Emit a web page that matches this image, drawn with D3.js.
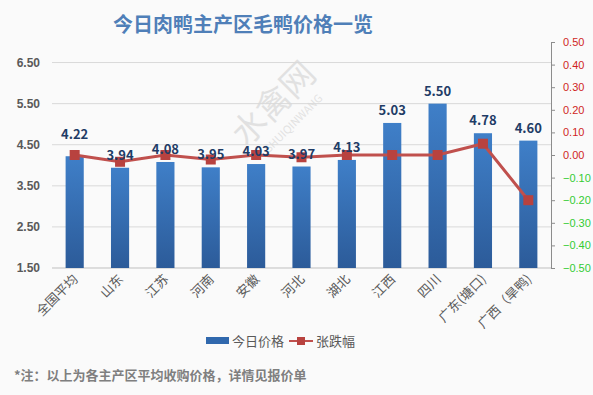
<!DOCTYPE html>
<html>
<head>
<meta charset="utf-8">
<script src="https://cdn.jsdelivr.net/npm/d3@7"></script>
<style>
  html, body { margin: 0; padding: 0; background: #fafafa; }
  svg { display: block; font-family: "Noto Sans CJK SC", "DejaVu Sans", sans-serif; }
</style>
</head>
<body>
<div id="chart"></div>
<script>
// 數據
const regions = ["全国平均", "山东", "江苏", "河南", "安徽", "河北", "湖北", "江西", "四川", "广东(塘口)", "广西（旱鸭)"];
const prices = [4.22, 3.94, 4.08, 3.95, 4.03, 3.97, 4.13, 5.03, 5.50, 4.78, 4.60];
const changes = [0.00, -0.03, 0.00, -0.02, 0.00, -0.01, 0.00, 0.00, 0.00, 0.05, -0.20];
const leftTicks = [1.5, 2.5, 3.5, 4.5, 5.5, 6.5];
const rightTicks = [-0.5, -0.4, -0.3, -0.2, -0.1, 0, 0.1, 0.2, 0.3, 0.4, 0.5];

const width = 593, height = 395;
const margin = { top: 42, right: 42, bottom: 127, left: 52 };

const svg = d3.select("#chart").append("svg")
    .attr("width", width)
    .attr("height", height);

const defs = svg.append("defs");
const grad = defs.append("linearGradient")
    .attr("id", "barGrad")
    .attr("x1", 0).attr("y1", 0).attr("x2", 0).attr("y2", 1);
grad.append("stop").attr("offset", "0%").attr("stop-color", "#3f7fc8");
grad.append("stop").attr("offset", "100%").attr("stop-color", "#2c5b99");

// 標題
svg.append("text")
    .attr("x", 243)
    .attr("y", 32)
    .attr("text-anchor", "middle")
    .attr("font-size", "20px")
    .attr("font-weight", "bold")
    .attr("fill", "#4f7fb8")
    .text("今日肉鸭主产区毛鸭价格一览");

// 水印
const wm = svg.append("g")
    .attr("transform", "translate(282,112) rotate(-45)")
    .attr("opacity", 0.18);
wm.append("text")
    .attr("text-anchor", "middle")
    .attr("font-size", "34px")
    .attr("fill", "#777")
    .text("水禽网");
wm.append("text")
    .attr("y", 20)
    .attr("text-anchor", "middle")
    .attr("font-size", "11px")
    .attr("fill", "#777")
    .text("SHUIQINWANG");

// 比例尺
const x = d3.scaleBand()
    .domain(regions)
    .range([margin.left, width - margin.right])
    .paddingInner(0.6)
    .paddingOuter(0.3);

const y = d3.scaleLinear()
    .domain([1.5, 7.0])
    .range([height - margin.bottom, margin.top]);

const y2 = d3.scaleLinear()
    .domain([-0.5, 0.5])
    .range([height - margin.bottom, margin.top]);

// 網格線
svg.append("g")
    .selectAll("line")
    .data(leftTicks)
    .join("line")
    .attr("x1", margin.left)
    .attr("x2", width - margin.right)
    .attr("y1", d => y(d))
    .attr("y2", d => y(d))
    .attr("stroke", d => d === 1.5 ? "#bfbfbf" : "#d9d9d9")
    .attr("stroke-width", 1);

// 左軸
const leftAxis = svg.append("g")
    .attr("transform", `translate(${margin.left},0)`)
    .call(d3.axisLeft(y).tickValues(leftTicks).tickFormat(d3.format(".2f")).tickSize(0).tickPadding(12));
leftAxis.select(".domain").remove();
leftAxis.selectAll("text")
    .attr("font-size", "12px")
    .attr("font-weight", "bold")
    .attr("fill", "#595959");

// 右軸
const rightAxis = svg.append("g")
    .attr("transform", `translate(${width - margin.right},0)`)
    .call(d3.axisRight(y2).tickValues(rightTicks).tickFormat(d3.format(".2f")).tickSizeOuter(0).tickSize(4).tickPadding(8));
rightAxis.select(".domain").attr("stroke", "#8c8c8c");
rightAxis.selectAll(".tick line").attr("stroke", "#8c8c8c");
rightAxis.selectAll("text")
    .attr("font-size", "11px")
    .attr("fill", d => d >= 0 ? "#d01f1f" : "#33cc33");

// 柱
svg.append("g")
    .selectAll("rect")
    .data(prices)
    .join("rect")
    .attr("x", (d, i) => x(regions[i]))
    .attr("y", d => y(d))
    .attr("width", x.bandwidth())
    .attr("height", d => y(1.5) - y(d))
    .attr("fill", "url(#barGrad)");

// 漲跌幅折線
const line = d3.line()
    .x((d, i) => x(regions[i]) + x.bandwidth() / 2)
    .y(d => y2(d));

svg.append("path")
    .datum(changes)
    .attr("d", line)
    .attr("fill", "none")
    .attr("stroke", "#c0504d")
    .attr("stroke-width", 3);

svg.append("g")
    .selectAll("rect")
    .data(changes)
    .join("rect")
    .attr("x", (d, i) => x(regions[i]) + x.bandwidth() / 2 - 5)
    .attr("y", d => y2(d) - 5)
    .attr("width", 10)
    .attr("height", 10)
    .attr("fill", "#b8423f");

// 數值標籤（第一個被手動上移以避開標記）
svg.append("g")
    .selectAll("text")
    .data(prices)
    .join("text")
    .attr("x", (d, i) => x(regions[i]) + x.bandwidth() / 2)
    .attr("y", (d, i) => y(d) - (i === 0 ? 17 : 8))
    .attr("text-anchor", "middle")
    .attr("font-size", "13px")
    .attr("font-weight", "bold")
    .attr("fill", "#1f3c66")
    .text(d => d.toFixed(2));

// X軸標籤
svg.append("g")
    .selectAll("text")
    .data(regions)
    .join("text")
    .attr("transform", d => `translate(${x(d) + x.bandwidth() / 2 + 4},${height - margin.bottom + 12}) rotate(-45)`)
    .attr("text-anchor", "end")
    .attr("font-size", "13px")
    .attr("fill", "#595959")
    .text(d => d);

// 圖例
const legend = svg.append("g").attr("transform", "translate(206,341)");
legend.append("rect")
    .attr("x", 0).attr("y", -4)
    .attr("width", 23).attr("height", 7)
    .attr("fill", "#3068ad");
legend.append("text")
    .attr("x", 26).attr("y", 5)
    .attr("font-size", "13px")
    .attr("fill", "#595959")
    .text("今日价格");
legend.append("line")
    .attr("x1", 83).attr("x2", 107)
    .attr("y1", 0).attr("y2", 0)
    .attr("stroke", "#c0504d")
    .attr("stroke-width", 2);
legend.append("rect")
    .attr("x", 91).attr("y", -4)
    .attr("width", 8).attr("height", 8)
    .attr("fill", "#b8423f");
legend.append("text")
    .attr("x", 110).attr("y", 5)
    .attr("font-size", "13px")
    .attr("fill", "#595959")
    .text("张跌幅");

// 註釋
svg.append("text")
    .attr("x", 14)
    .attr("y", 380)
    .attr("font-size", "13px")
    .attr("font-weight", "bold")
    .attr("fill", "#7f7f7f")
    .text("*注：以上为各主产区平均收购价格，详情见报价单");
</script>
</body>
</html>
